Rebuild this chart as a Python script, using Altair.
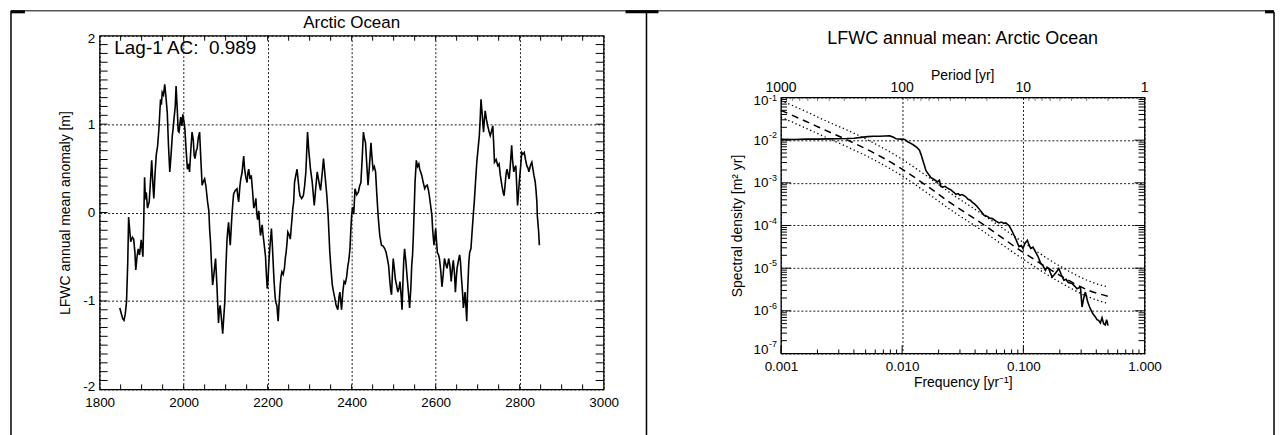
import altair as alt
import pandas as pd

FONT = "Liberation Sans"

# ---------------- left panel data ----------------
years = [
    1848, 1852, 1855, 1858, 1861, 1864, 1867, 1869, 1872, 1874,
    1878, 1881, 1884, 1886, 1889, 1892, 1895, 1899, 1903, 1905,
    1907, 1909, 1911, 1914, 1918, 1921, 1924, 1927, 1929, 1932,
    1935, 1938, 1941, 1945, 1947, 1949, 1952, 1955, 1958, 1961,
    1964, 1967, 1970, 1973, 1975, 1977, 1980, 1982, 1985, 1987,
    1989, 1991, 1993, 1996, 1998, 2001, 2003, 2006, 2009, 2012,
    2014, 2017, 2020, 2023, 2025, 2027, 2030, 2032, 2035, 2038,
    2041, 2044, 2047, 2050, 2053, 2057, 2060, 2062, 2064, 2066,
    2069, 2072, 2076, 2079, 2083, 2085, 2087, 2090, 2093, 2096,
    2098, 2100, 2103, 2105, 2107, 2109, 2111, 2113, 2115, 2117,
    2119, 2123, 2127, 2129, 2131, 2134, 2136, 2139, 2141, 2143,
    2145, 2148, 2151, 2153, 2155, 2158, 2161, 2164, 2167, 2170,
    2172, 2174, 2176, 2179, 2181, 2183, 2185, 2187, 2189, 2191,
    2195, 2197, 2199, 2201, 2203, 2206, 2209, 2211, 2213, 2215,
    2217, 2219, 2222, 2225, 2227, 2230, 2232, 2234, 2237, 2240,
    2242, 2244, 2246, 2248, 2251, 2254, 2256, 2258, 2260, 2262,
    2264, 2267, 2270, 2273, 2275, 2277, 2281, 2285, 2288, 2291,
    2295, 2298, 2302, 2306, 2311, 2314, 2318, 2322, 2326, 2330,
    2333, 2337, 2341, 2344, 2348, 2351, 2354, 2357, 2360, 2363,
    2367, 2370, 2372, 2374, 2376, 2379, 2382, 2385, 2388, 2391,
    2393, 2396, 2398, 2400, 2402, 2405, 2408, 2412, 2416, 2419,
    2422, 2425, 2428, 2430, 2433, 2436, 2439, 2442, 2446, 2448,
    2451, 2454, 2457, 2460, 2463, 2465, 2467, 2471, 2475, 2479,
    2482, 2485, 2488, 2491, 2493, 2495, 2497, 2499, 2502, 2504,
    2507, 2510, 2513, 2515, 2518, 2520, 2522, 2524, 2526, 2529,
    2533, 2536, 2538, 2541, 2543, 2545, 2547, 2549, 2551, 2554,
    2557, 2560, 2562, 2565, 2567, 2570, 2574, 2577, 2580, 2583,
    2585, 2588, 2591, 2593, 2596, 2598, 2600, 2602, 2604, 2607,
    2609, 2612, 2615, 2618, 2621, 2624, 2627, 2629, 2631, 2634,
    2637, 2640, 2642, 2645, 2647, 2649, 2651, 2654, 2657, 2659,
    2661, 2664, 2666, 2668, 2670, 2672, 2674, 2676, 2679, 2681,
    2684, 2687, 2690, 2692, 2695, 2698, 2701, 2704, 2706, 2708,
    2711, 2714, 2716, 2718, 2721, 2724, 2727, 2730, 2733, 2736,
    2738, 2740, 2744, 2748, 2751, 2754, 2758, 2761, 2763, 2766,
    2768, 2770, 2773, 2775, 2778, 2781, 2783, 2786, 2788, 2791,
    2793, 2795, 2797, 2799, 2802, 2805, 2808, 2811, 2814, 2817,
    2820, 2822, 2825, 2827, 2829, 2832, 2834, 2837, 2839, 2841,
    2842, 2845, 2847,
]
lfwc = [
    -1.08, -1.15, -1.20, -1.22, -1.15, -1.01, -0.55, -0.05, -0.22, -0.33,
    -0.28, -0.30, -0.45, -0.65, -0.50, -0.41, -0.48, -0.31, -0.50, -0.10,
    0.40, 0.15, 0.23, 0.05, 0.12, 0.35, 0.59, 0.30, 0.16, 0.45,
    0.66, 0.75, 0.94, 1.28, 1.22, 1.36, 1.33, 1.45, 1.30, 1.13,
    0.75, 0.46, 0.65, 0.87, 0.95, 1.06, 1.20, 1.43, 1.15, 0.92,
    0.91, 1.00, 1.08, 0.98, 1.11, 1.02, 0.94, 0.70, 0.49, 0.55,
    0.46, 0.70, 0.91, 0.82, 0.65, 0.61, 0.70, 0.72, 0.85, 0.91,
    0.60, 0.31, 0.35, 0.38, 0.30, 0.12, 0.02, -0.20, -0.33, -0.55,
    -0.82, -0.70, -0.52, -0.80, -1.25, -1.10, -1.05, -1.20, -1.37, -1.15,
    -1.01, -0.70, -0.33, -0.20, -0.11, -0.25, -0.37, -0.20, -0.03, 0.10,
    0.21, 0.25, 0.27, 0.18, 0.12, 0.30, 0.38, 0.45, 0.55, 0.64,
    0.50, 0.40, 0.34, 0.45, 0.49, 0.38, 0.42, 0.25, 0.05, 0.10,
    0.16, 0.00, -0.08, 0.02, -0.15, -0.26, -0.20, -0.14, -0.25, -0.33,
    -0.50, -0.70, -0.86, -0.75, -0.56, -0.35, -0.18, -0.35, -0.55, -0.75,
    -0.90, -1.01, -1.05, -1.23, -1.05, -0.82, -0.72, -0.67, -0.70, -0.63,
    -0.52, -0.45, -0.35, -0.22, -0.25, -0.30, -0.18, -0.07, 0.05, 0.12,
    0.34, 0.42, 0.49, 0.35, 0.25, 0.19, 0.16, 0.19, 0.30, 0.46,
    0.91, 0.70, 0.49, 0.35, 0.08, 0.25, 0.46, 0.35, 0.25, 0.45,
    0.61, 0.40, 0.19, -0.03, -0.45, -0.65, -0.82, -0.90, -0.97, -1.05,
    -1.10, -0.95, -0.90, -1.00, -1.10, -0.90, -0.78, -0.80, -0.73, -0.60,
    -0.55, -0.41, -0.20, -0.03, 0.06, -0.02, 0.27, 0.20, 0.23, 0.30,
    0.34, 0.60, 0.91, 0.85, 0.79, 0.55, 0.31, 0.50, 0.79, 0.65,
    0.49, 0.52, 0.46, 0.20, -0.03, -0.15, -0.26, -0.37, -0.38, -0.41,
    -0.45, -0.52, -0.60, -0.78, -0.88, -0.93, -0.70, -0.52, -0.65, -0.75,
    -0.82, -0.90, -0.85, -0.78, -0.95, -1.10, -0.80, -0.55, -0.41, -0.55,
    -0.78, -0.95, -1.08, -0.85, -0.60, -0.48, -0.25, 0.05, 0.35, 0.59,
    0.52, 0.55, 0.49, 0.45, 0.42, 0.35, 0.27, 0.30, 0.31, 0.25,
    0.19, 0.08, -0.03, -0.20, -0.37, -0.28, -0.18, -0.32, -0.45, -0.48,
    -0.52, -0.65, -0.84, -0.70, -0.52, -0.58, -0.63, -0.58, -0.52, -0.60,
    -0.78, -0.62, -0.54, -0.70, -0.90, -0.75, -0.63, -0.55, -0.48, -0.55,
    -0.71, -0.90, -1.08, -1.00, -0.90, -1.05, -1.23, -0.90, -0.56, -0.45,
    -0.41, -0.20, 0.00, 0.12, 0.35, 0.57, 0.72, 0.87, 1.05, 1.28,
    1.10, 0.91, 1.05, 1.15, 1.05, 0.98, 0.92, 0.87, 0.92, 0.98,
    0.80, 0.57, 0.60, 0.53, 0.55, 0.42, 0.30, 0.22, 0.19, 0.35,
    0.45, 0.49, 0.42, 0.38, 0.55, 0.76, 0.60, 0.46, 0.50, 0.53,
    0.30, 0.08, 0.20, 0.34, 0.50, 0.68, 0.66, 0.68, 0.60, 0.53,
    0.50, 0.46, 0.52, 0.55, 0.57, 0.48, 0.42, 0.35, 0.25, 0.12,
    -0.03, -0.20, -0.37,
]
left_title = "Arctic Ocean"
lag_text = "Lag-1 AC:\u00a0 0.989"
left_ytitle = "LFWC annual mean anomaly [m]"
year_labels = [1800, 2000, 2200, 2400, 2600, 2800, 3000]
anom_labels = [-2, -1, 0, 1, 2]
year_minor = [1850 + 50 * i for i in range(23)]
anom_minor = [round(-1.9 + 0.1 * i, 1) for i in range(39)]

# ---------------- right panel data ----------------
spec_f = [
    0.001, 0.0013, 0.0016, 0.002, 0.0025, 0.003, 0.0035, 0.004, 0.0046, 0.0052,
    0.0058, 0.0065, 0.0072, 0.0079, 0.0084, 0.0089, 0.0097, 0.0105, 0.0111, 0.0118,
    0.0125, 0.0132, 0.0139, 0.0144, 0.0148, 0.0153, 0.0157, 0.0165, 0.0173, 0.0185,
    0.0196, 0.0203, 0.0209, 0.0218, 0.0226, 0.0235, 0.0244, 0.0253, 0.0262, 0.0270,
    0.0278, 0.0290, 0.0300, 0.0312, 0.0325, 0.0338, 0.0350, 0.0365, 0.0380, 0.0395,
    0.0410, 0.0432, 0.0450, 0.0474, 0.0500, 0.0525, 0.0556, 0.0590, 0.0630, 0.0660,
    0.0690, 0.0716, 0.0740, 0.0762, 0.0800, 0.0838, 0.0870, 0.0920, 0.0960, 0.0993,
    0.1030, 0.1080, 0.1110, 0.1150, 0.1200, 0.1260, 0.1320, 0.1390, 0.1450, 0.1520,
    0.1570, 0.1620, 0.1670, 0.1730, 0.1800, 0.1880, 0.1960, 0.2050, 0.2160, 0.2250,
    0.2350, 0.2520, 0.2650, 0.2770, 0.2960, 0.3050, 0.3150, 0.3250, 0.3400, 0.3570,
    0.3750, 0.3930, 0.4050, 0.4180, 0.4320, 0.4460, 0.4600, 0.4740, 0.4870, 0.5000,
]
spec_s = [
    1.05e-2, 1.04e-2, 1.06e-2, 1.06e-2, 1.07e-2, 1.08e-2, 1.09e-2, 1.11e-2, 1.16e-2, 1.21e-2,
    1.23e-2, 1.24e-2, 1.25e-2, 1.26e-2, 1.18e-2, 1.08e-2, 1.06e-2, 1.04e-2, 9.2e-3, 8.4e-3,
    7.6e-3, 6.8e-3, 5.8e-3, 4.4e-3, 3.4e-3, 2.5e-3, 1.95e-3, 1.58e-3, 1.32e-3, 1.18e-3,
    1.05e-3, 1.15e-3, 8.2e-4, 8.0e-4, 8.3e-4, 7.6e-4, 7.2e-4, 6.8e-4, 6.2e-4, 5.8e-4,
    5.4e-4, 5.6e-4, 5.1e-4, 5.3e-4, 5.0e-4, 4.6e-4, 4.1e-4, 3.9e-4, 3.5e-4, 3.2e-4,
    2.9e-4, 2.45e-4, 2.1e-4, 1.74e-4, 1.65e-4, 1.5e-4, 1.45e-4, 1.28e-4, 1.15e-4, 1.2e-4,
    1.12e-4, 1.15e-4, 1.06e-4, 1.0e-4, 7.8e-5, 5.9e-5, 4.7e-5, 3.2e-5, 3.4e-5, 2.9e-5,
    3.8e-5, 4.5e-5, 3.6e-5, 2.9e-5, 3.1e-5, 2.4e-5, 1.9e-5, 1.3e-5, 1.15e-5, 8.9e-6,
    1.05e-5, 9.8e-6, 7.8e-6, 6.2e-6, 7.0e-6, 8.2e-6, 9.8e-6, 7.2e-6, 5.2e-6, 5.5e-6,
    4.6e-6, 4.4e-6, 3.8e-6, 3.3e-6, 3.6e-6, 1.23e-6, 2.0e-6, 2.75e-6, 1.6e-6, 1.12e-6,
    8.5e-7, 7.2e-7, 6.2e-7, 6.0e-7, 5.2e-7, 6.9e-7, 5.0e-7, 4.7e-7, 6.2e-7, 4.5e-7,
]
red_f = [0.001, 0.00158, 0.00251, 0.00355, 0.00631, 0.01, 0.0158, 0.0245, 0.0457, 0.1, 0.2, 0.347, 0.5]
red_s = [0.050, 0.0282, 0.0155, 0.0100, 0.00447, 0.00209, 8.7e-4, 3.55e-4, 1.1e-4, 2.34e-5, 6.8e-6, 3.0e-6, 2.2e-6]
up_s = [0.085, 0.048, 0.026, 0.017, 0.0076, 0.00355, 1.48e-3, 6.0e-4, 1.86e-4, 4.0e-5, 1.12e-5, 5.0e-6, 3.6e-6]
lo_s = [0.0347, 0.0195, 0.0107, 0.0069, 0.0031, 0.00145, 6.0e-4, 2.45e-4, 7.6e-5, 1.62e-5, 4.7e-6, 2.1e-6, 1.48e-6]
right_title = "LFWC annual mean: Arctic Ocean"
period_title = "Period [yr]"
freq_title = "Frequency [yr\u207b\u00b9]"
psd_title = "Spectral density [m\u00b2 yr]"
freq_labels = [0.001, 0.01, 0.1, 1.0]
psd_decades = [1e-7, 1e-6, 1e-5, 1e-4, 1e-3, 1e-2, 1e-1]
psd_exponents = ["-7", "-6", "-5", "-4", "-3", "-2", "-1"]
periods = [1000, 100, 10, 1]
freq_minor = [m * 10.0 ** k for k in (-3, -2, -1) for m in range(2, 10)]
psd_minor = [m * 10.0 ** k for k in range(-7, -1) for m in range(2, 10)]
period_minor = [m * 10 ** k for k in (0, 1, 2) for m in range(2, 10)]

# ---------------- geometry ----------------
W1, H1 = 506, 355
W2, H2 = 365, 257

one = pd.DataFrame({"a": [0]})

common_axis = dict(
    grid=True, gridColor="black", gridDash=[2, 2], gridWidth=0.9, gridOpacity=1,
    ticks=False, domain=False, labelFont=FONT, labelColor="black",
    labelOverlap=False,
)

# ---------------- left panel ----------------
xs1 = alt.Scale(domain=[1800, 3000], nice=False, zero=False)
ys1 = alt.Scale(domain=[-2, 2], nice=False, zero=False)

ts_df = pd.DataFrame({"year": years, "v": lfwc})
line1 = alt.Chart(ts_df).mark_line(color="black", strokeWidth=1.6).encode(
    x=alt.X("year:Q", scale=xs1, axis=alt.Axis(
        values=year_labels, format="d", title="", labelFontSize=13.5, labelPadding=6,
        labelFlush=False, **common_axis)),
    y=alt.Y("v:Q", scale=ys1, axis=alt.Axis(
        values=anom_labels, format="d", labelExpr="replace(datum.label, '\u2212', '-')",
        title=left_ytitle, titleFont=FONT,
        titleFontSize=14, titleFontWeight="normal", titleColor="black",
        titlePadding=10, labelFontSize=13.5, labelPadding=5,
        labelFlush=True, labelFlushOffset=4, **common_axis)),
)

xm1 = pd.DataFrame({"year": year_minor})
ym1 = pd.DataFrame({"v": anom_minor})
tk_b1 = alt.Chart(xm1).mark_rule(color="black").encode(
    x="year:Q", y=alt.value(H1), y2=alt.value(H1 - 5))
tk_t1 = alt.Chart(xm1).mark_rule(color="black").encode(
    x="year:Q", y=alt.value(0), y2=alt.value(5))
tk_l1 = alt.Chart(ym1).mark_rule(color="black").encode(
    y="v:Q", x=alt.value(0), x2=alt.value(8))
tk_r1 = alt.Chart(ym1).mark_rule(color="black").encode(
    y="v:Q", x=alt.value(W1), x2=alt.value(W1 - 8))

lag = alt.Chart(one).mark_text(
    align="left", baseline="middle", font=FONT, fontSize=19, color="black"
).encode(x=alt.datum(1835), y=alt.datum(1.865), text=alt.value(lag_text))

title1 = alt.Chart(one).mark_text(
    align="center", baseline="middle", font=FONT, fontSize=17, color="black"
).encode(x=alt.datum(2400), y=alt.value(-13), text=alt.value(left_title))

# table-like frame lines around the two cells
b_top = alt.Chart(one).mark_rule(color="black", strokeWidth=1).encode(
    x=alt.value(-89), x2=alt.value(1179), y=alt.value(-25))
b_left = alt.Chart(one).mark_rule(color="black", strokeWidth=1.5).encode(
    x=alt.value(-89), y=alt.value(-25), y2=alt.value(402))
b_mid = alt.Chart(one).mark_rule(color="black", strokeWidth=1.5).encode(
    x=alt.value(549), y=alt.value(-25), y2=alt.value(402))
b_right = alt.Chart(one).mark_rule(color="black", strokeWidth=1.5).encode(
    x=alt.value(1179), y=alt.value(-24), y2=alt.value(402))
b_k1 = alt.Chart(one).mark_rule(color="black", strokeWidth=3).encode(
    x=alt.value(-89), x2=alt.value(-75), y=alt.value(-24))
b_k2 = alt.Chart(one).mark_rule(color="black", strokeWidth=3).encode(
    x=alt.value(528), x2=alt.value(561), y=alt.value(-24))
b_k3 = alt.Chart(one).mark_rule(color="black", strokeWidth=3).encode(
    x=alt.value(1170), x2=alt.value(1179), y=alt.value(-24))

left = alt.layer(
    line1, tk_b1, tk_t1, tk_l1, tk_r1, lag, title1,
    b_top, b_left, b_mid, b_right, b_k1, b_k2, b_k3,
).properties(width=W1, height=H1)

# ---------------- right panel ----------------
xs2 = alt.Scale(type="log", domain=[0.001, 1], nice=False)
ys2 = alt.Scale(type="log", domain=[1e-7, 1e-1], nice=False)

spec_df = pd.DataFrame({"f": spec_f, "S": spec_s})
red_df = pd.DataFrame({"f": red_f, "S": red_s})
up_df = pd.DataFrame({"f": red_f, "S": up_s})
lo_df = pd.DataFrame({"f": red_f, "S": lo_s})

spec_line = alt.Chart(spec_df).mark_line(color="black", strokeWidth=1.6).encode(
    x=alt.X("f:Q", scale=xs2, axis=alt.Axis(
        values=freq_labels, format=".3f", title=freq_title, titleFont=FONT,
        titleFontSize=14, titleFontWeight="normal", titleColor="black",
        titlePadding=3, labelFontSize=13.5, labelPadding=6,
        labelFlush=False, **common_axis)),
    y=alt.Y("S:Q", scale=ys2, axis=alt.Axis(
        values=psd_decades, labelExpr="'10'", title=psd_title, titleFont=FONT,
        titleFontSize=14, titleFontWeight="normal", titleColor="black",
        titlePadding=9, labelFontSize=13.5, labelPadding=13,
        labelFlush=True, labelFlushOffset=3.5, **common_axis)),
)
red_line = alt.Chart(red_df).mark_line(
    color="black", strokeWidth=1.5, strokeDash=[7, 5], interpolate="monotone"
).encode(x="f:Q", y="S:Q")
up_line = alt.Chart(up_df).mark_line(
    color="black", strokeWidth=1.3, strokeDash=[1.3, 2.7], interpolate="monotone"
).encode(x="f:Q", y="S:Q")
lo_line = alt.Chart(lo_df).mark_line(
    color="black", strokeWidth=1.3, strokeDash=[1.3, 2.7], interpolate="monotone"
).encode(x="f:Q", y="S:Q")

fm_df = pd.DataFrame({"f": freq_minor})
fM_df = pd.DataFrame({"f": freq_labels})
sm_df = pd.DataFrame({"S": psd_minor})
sM_df = pd.DataFrame({"S": psd_decades})
pm_df = pd.DataFrame({"f": [1.0 / p for p in period_minor]})

tk_b2 = alt.Chart(fm_df).mark_rule(color="black").encode(
    x="f:Q", y=alt.value(H2), y2=alt.value(H2 - 4))
tk_bM2 = alt.Chart(fM_df).mark_rule(color="black").encode(
    x="f:Q", y=alt.value(H2), y2=alt.value(H2 - 8))
tk_t2 = alt.Chart(pm_df).mark_rule(color="black", strokeDash=[1, 1]).encode(
    x="f:Q", y=alt.value(0), y2=alt.value(3))
tk_l2 = alt.Chart(sm_df).mark_rule(color="black").encode(
    y="S:Q", x=alt.value(0), x2=alt.value(6))
tk_r2 = alt.Chart(sm_df).mark_rule(color="black").encode(
    y="S:Q", x=alt.value(W2), x2=alt.value(W2 - 6))
tk_lM2 = alt.Chart(sM_df).mark_rule(color="black").encode(
    y="S:Q", x=alt.value(0), x2=alt.value(10))
tk_rM2 = alt.Chart(sM_df).mark_rule(color="black").encode(
    y="S:Q", x=alt.value(W2), x2=alt.value(W2 - 10))

exp_df = pd.DataFrame({"S": psd_decades, "e": psd_exponents})
exp_base = alt.Chart(exp_df)
exp_style = dict(align="left", baseline="middle", font=FONT, fontSize=9, color="black")
exps_mid = exp_base.mark_text(dy=-5, **exp_style).encode(
    x=alt.value(-12), y="S:Q", text="e:N"
).transform_filter("datum.e != '-1' && datum.e != '-7'")
exps_top = exp_base.mark_text(dy=1, **exp_style).encode(
    x=alt.value(-12), y="S:Q", text="e:N"
).transform_filter("datum.e == '-1'")
exps_bot = exp_base.mark_text(dy=-10, **exp_style).encode(
    x=alt.value(-12), y="S:Q", text="e:N"
).transform_filter("datum.e == '-7'")

per_df = pd.DataFrame({"f": [1.0 / p for p in periods], "p": [str(p) for p in periods]})
per_lab = alt.Chart(per_df).mark_text(
    align="center", baseline="middle", font=FONT, fontSize=14, color="black"
).encode(x="f:Q", y=alt.value(-10), text="p:N")

per_title = alt.Chart(one).mark_text(
    align="center", baseline="middle", font=FONT, fontSize=14, color="black"
).encode(x=alt.datum(0.0316), y=alt.value(-22), text=alt.value(period_title))

title2 = alt.Chart(one).mark_text(
    align="center", baseline="middle", font=FONT, fontSize=18, color="black"
).encode(x=alt.datum(0.0316), y=alt.value(-59), text=alt.value(right_title))

right = alt.layer(
    spec_line, up_line, red_line, lo_line,
    tk_b2, tk_bM2, tk_t2, tk_l2, tk_r2, tk_lM2, tk_rM2,
    exps_mid, exps_top, exps_bot, per_lab, per_title, title2,
).properties(width=W2, height=H2)

spacer = alt.Chart(one).mark_point(opacity=0).encode(
    x=alt.value(0), y=alt.value(0)
).properties(width=W2, height=62, view=alt.ViewBackground(stroke="transparent"))

right_col = alt.vconcat(spacer, right, spacing=0, bounds="flush")

chart = alt.hconcat(left, right_col, spacing=178, bounds="flush").properties(
    padding=0
).configure_view(stroke="black", strokeWidth=1.3)

chart.save("out.html", embed_options={"renderer": "svg", "actions": False})
